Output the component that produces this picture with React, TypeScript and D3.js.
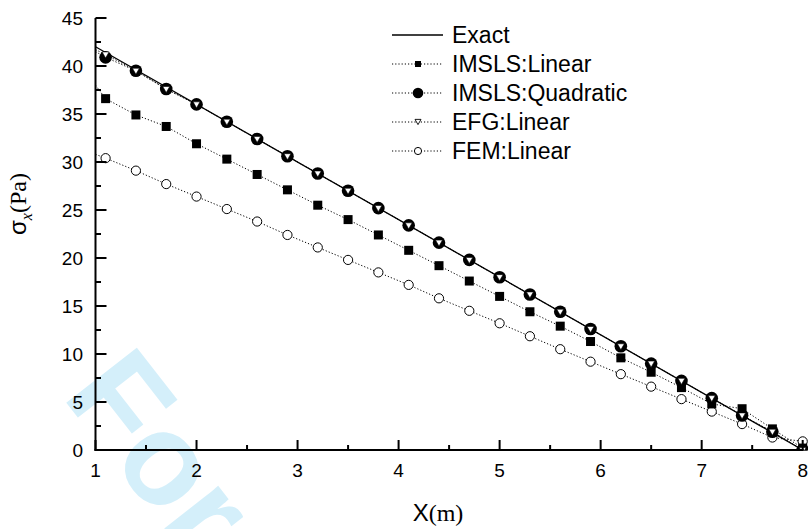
import React from "react";
import * as d3 from "d3";

// ---- data ----
const xLine = [1.0, 1.1, 1.4, 1.7, 2.0, 2.3, 2.6, 2.9, 3.2, 3.5, 3.8, 4.1, 4.4, 4.7, 5.0, 5.3, 5.6, 5.9, 6.2, 6.5, 6.8, 7.1, 7.4, 7.7, 8.0];
const exactX = [1, 8];
const exactY = [42, 0];
const imslsLinear = [38.0, 36.6, 34.9, 33.7, 31.9, 30.3, 28.7, 27.1, 25.5, 24.0, 22.4, 20.8, 19.2, 17.6, 16.0, 14.4, 12.9, 11.3, 9.6, 8.1, 6.5, 4.8, 4.3, 2.2, 0.2];
const imslsQuadratic = [41.5, 40.9, 39.5, 37.6, 36.0, 34.2, 32.4, 30.6, 28.8, 27.0, 25.2, 23.4, 21.6, 19.8, 18.0, 16.2, 14.4, 12.6, 10.8, 9.0, 7.2, 5.4, 3.6, 1.9, 0.0];
const efgLinear = [41.7, 41.2, 39.5, 37.6, 36.0, 34.2, 32.4, 30.6, 28.8, 27.0, 25.2, 23.4, 21.6, 19.8, 18.0, 16.2, 14.4, 12.6, 10.8, 9.0, 7.2, 5.4, 3.6, 1.9, 0.0];
const femLinear = [30.8, 30.4, 29.1, 27.7, 26.4, 25.1, 23.8, 22.4, 21.1, 19.8, 18.5, 17.2, 15.8, 14.5, 13.2, 11.85, 10.5, 9.2, 7.9, 6.6, 5.3, 4.0, 2.7, 1.3, 0.9];
const firstMarker = 1; // line starts at x=1.0, markers start at x=1.1
const xTicks = [1, 2, 3, 4, 5, 6, 7, 8];
const yTicks = [0, 5, 10, 15, 20, 25, 30, 35, 40, 45];
const legendLabels = ["Exact", "IMSLS:Linear", "IMSLS:Quadratic", "EFG:Linear", "FEM:Linear"];
const watermark = "For";

const W = 808;
const H = 529;
const x = d3.scaleLinear().domain([1, 8]).range([95.5, 802.7]);
const y = d3.scaleLinear().domain([0, 45]).range([450, 18]);

const SANS = "'Liberation Sans', Arial, Helvetica, sans-serif";
const SERIF = "'Liberation Serif', 'Times New Roman', serif";
const DOT = "1.2 2";

function linePath(xs: number[], ys: number[]) {
  const gen = d3.line<number>().x((_, i) => x(xs[i])).y((d) => y(d));
  return gen(ys) || "";
}

function tri(cx: number, cy: number, s: number) {
  const h = s * 0.87;
  return `M${cx - s / 2},${cy - h / 2}L${cx + s / 2},${cy - h / 2}L${cx},${cy + h / 2}Z`;
}

export default function App() {
  const minorX = d3.range(1.5, 8, 1);
  const minorY = d3.range(2.5, 45, 5);
  const markerIdx = d3.range(firstMarker, xLine.length);
  const legendY = [35, 64, 93, 122, 151];
  const lx0 = 392, lx1 = 443, lmx = 418, ltx = 452;
  return (
    <svg width={W} height={H} style={{ position: "absolute", left: 0, top: 0, background: "#fff" }}>
      <defs>
        <clipPath id="plotclip">
          <rect x={95} y={0} width={W - 95} height={450.5} />
        </clipPath>
      </defs>
      <rect x={0} y={0} width={W} height={H} fill="#fff" />
      {/* watermark */}
      <text transform="translate(61,396) rotate(52)" fontFamily={SANS} fontWeight="bold" fontSize={130} fill="#d4effa">
        {watermark}
      </text>

      {/* series lines */}
      <path d={linePath(xLine, femLinear)} fill="none" stroke="#000" strokeWidth={1} strokeDasharray={DOT} />
      <path d={linePath(xLine, imslsLinear)} fill="none" stroke="#000" strokeWidth={1} strokeDasharray={DOT} />
      <path d={linePath(xLine, imslsQuadratic)} fill="none" stroke="#000" strokeWidth={1} strokeDasharray={DOT} />
      <path d={linePath(xLine, efgLinear)} fill="none" stroke="#000" strokeWidth={1} strokeDasharray={DOT} />
      <path d={linePath(exactX, exactY)} fill="none" stroke="#000" strokeWidth={1.3} />

      {/* markers */}
      <g clipPath="url(#plotclip)">
        {markerIdx.map((i) => (
          <circle key={"f" + i} cx={x(xLine[i])} cy={y(femLinear[i])} r={4.6} fill="#fff" stroke="#000" strokeWidth={1} />
        ))}
        {markerIdx.map((i) => (
          <rect key={"s" + i} x={x(xLine[i]) - 4.5} y={y(imslsLinear[i]) - 4.5} width={9} height={9} fill="#000" />
        ))}
        {markerIdx.map((i) => (
          <circle key={"q" + i} cx={x(xLine[i])} cy={y(imslsQuadratic[i])} r={6.3} fill="#000" />
        ))}
        {markerIdx.map((i) => (
          <path key={"t" + i} d={tri(x(xLine[i]), y(efgLinear[i]) + 0.5, 7)} fill="#fff" stroke="#000" strokeWidth={0.6} />
        ))}
      </g>

      {/* axes */}
      <line x1={x(1)} x2={x(1)} y1={y(45)} y2={y(0) + 1} stroke="#000" strokeWidth={2} />
      <line x1={x(1) - 1} x2={x(8) + 1} y1={y(0)} y2={y(0)} stroke="#000" strokeWidth={2} />
      {yTicks.map((t) => (
        <g key={"yt" + t}>
          <line x1={x(1)} x2={x(1) + 11} y1={y(t)} y2={y(t)} stroke="#000" strokeWidth={2} />
          <text x={83} y={y(t)} dy="0.36em" textAnchor="end" fontFamily={SANS} fontSize={19} fill="#000">
            {t}
          </text>
        </g>
      ))}
      {minorY.map((t) => (
        <line key={"ym" + t} x1={x(1)} x2={x(1) + 5.5} y1={y(t)} y2={y(t)} stroke="#000" strokeWidth={2} />
      ))}
      {xTicks.map((t) => (
        <g key={"xt" + t}>
          <line x1={x(t)} x2={x(t)} y1={y(0)} y2={y(0) - 10} stroke="#000" strokeWidth={2} />
          <text x={x(t)} y={477} textAnchor="middle" fontFamily={SANS} fontSize={19} fill="#000">
            {t}
          </text>
        </g>
      ))}
      {minorX.map((t) => (
        <line key={"xm" + t} x1={x(t)} x2={x(t)} y1={y(0)} y2={y(0) - 5} stroke="#000" strokeWidth={2} />
      ))}

      {/* axis titles */}
      <text x={438} y={521} textAnchor="middle" fontSize={24} fill="#000">
        <tspan fontFamily={SANS}>X</tspan>
        <tspan fontFamily={SERIF}>(m)</tspan>
      </text>
      <text transform="translate(26,204) rotate(-90)" textAnchor="middle" fontSize={24} fill="#000">
        <tspan fontFamily={SANS}>σ</tspan>
        <tspan fontFamily={SERIF} fontStyle="italic" fontSize={16} dy={6}>x</tspan>
        <tspan fontFamily={SERIF} dy={-6}>(Pa)</tspan>
      </text>

      {/* legend */}
      {legendLabels.map((lab, i) => (
        <g key={"lg" + i}>
          <line x1={lx0} x2={lx1} y1={legendY[i]} y2={legendY[i]} stroke="#000" strokeWidth={i === 0 ? 1.3 : 1} strokeDasharray={i === 0 ? undefined : DOT} />
          <text x={ltx} y={legendY[i]} dy="0.36em" fontFamily={SANS} fontSize={23} fill="#000">
            {lab}
          </text>
        </g>
      ))}
      <rect x={lmx - 3} y={legendY[1] - 3} width={6} height={6} fill="#000" />
      <circle cx={lmx} cy={legendY[2]} r={5.3} fill="#000" />
      <path d={tri(lmx, legendY[3], 6)} fill="#fff" stroke="#000" strokeWidth={0.9} />
      <circle cx={lmx} cy={legendY[4]} r={3.6} fill="#fff" stroke="#000" strokeWidth={1} />
    </svg>
  );
}
